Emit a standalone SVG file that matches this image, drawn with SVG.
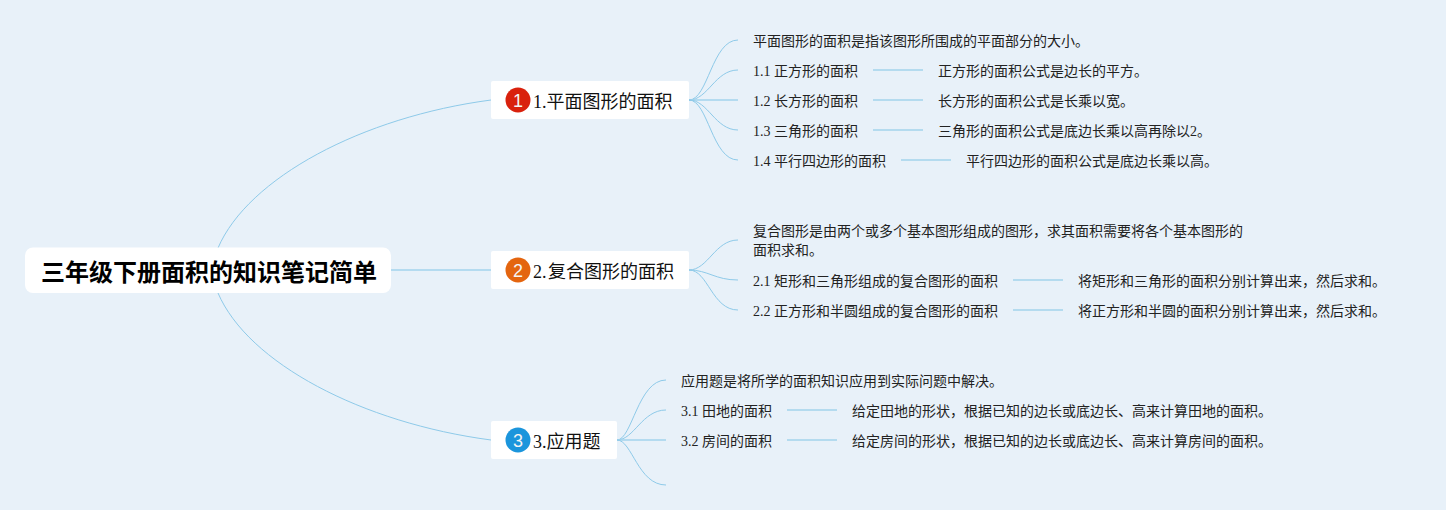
<svg xmlns="http://www.w3.org/2000/svg" width="1446" height="510" viewBox="0 0 1446 510">
<style>
text{font-family:"Liberation Serif","Noto Sans CJK SC",serif;fill:#222}
.s{font-size:14px}
.b{font-size:18px;fill:#111}
.r{font-size:24px;font-weight:700;font-family:"Liberation Sans","Noto Sans CJK SC",sans-serif;fill:#000}
.n{font-size:18px;fill:#f4f4f4;text-anchor:middle;font-family:"Liberation Sans",sans-serif}
.c{fill:none;stroke:#8ecae9;stroke-width:1}
.t{fill:none;stroke:#a3d3ec;stroke-width:1.4}
.w{fill:#fff}
</style>
<rect width="1446" height="510" fill="#e8f1f9"/>
<g id="connectors">
<path class="c" d="M218 248C248 178 362 117 491 100"/>
<path class="t" d="M391 270H491"/>
<path class="c" d="M218 293C248 363 362 423 491 440"/>
<path class="c" d="M689 100C708 100 712 40 738 40"/>
<path class="c" d="M689 100C708 100 715 70 738 70"/>
<path class="t" d="M689 100H738"/>
<path class="c" d="M689 100C708 100 715 130 738 130"/>
<path class="c" d="M689 100C708 100 712 160 738 160"/>
<path class="t" d="M873 70H923M873 100H923M873 130H923M901 160H951"/>
<path class="c" d="M689 270C708 270 715 240 738 240"/>
<path class="c" d="M689 270C708 270 715 280 738 280"/>
<path class="c" d="M689 270C708 270 712 310 738 310"/>
<path class="t" d="M1013 280H1063M1013 310H1063"/>
<path class="c" d="M617 440C632 440 638 380 666 380"/>
<path class="c" d="M617 440C634 440 642 410 666 410"/>
<path class="t" d="M617 440H666"/>
<path class="c" d="M617 440C632 440 638 485 666 485"/>
<path class="t" d="M787 410H837M787 440H837"/>
</g>
<g id="root"><rect class="w" x="25" y="247.500" width="366" height="45.500" rx="8"/><text class="r" x="41" y="281">三年级下册面积的知识笔记简单</text></g>
<g id="branch1"><rect class="w" x="491" y="81" width="198" height="38" rx="2"/><circle cx="518" cy="100" r="12.500" fill="#d9210d"/><text class="n" x="518" y="106.500">1</text><text class="b" x="533" y="108">1.平面图形的面积</text></g>
<g id="branch2"><rect class="w" x="491" y="251" width="198" height="38" rx="2"/><circle cx="518" cy="270" r="12.500" fill="#e4650f"/><text class="n" x="518" y="276.500">2</text><text class="b" x="533" y="278">2.<tspan dx="1.500">复合图形的面积</tspan></text></g>
<g id="branch3"><rect class="w" x="491" y="421" width="126" height="38" rx="2"/><circle cx="518" cy="440" r="12.500" fill="#1b95dc"/><text class="n" x="518" y="446.500">3</text><text class="b" x="533" y="448">3.应用题</text></g>
<g id="n1-0"><text class="s" x="753" y="46">平面图形的面积是指该图形所围成的平面部分的大小。</text></g>
<g id="n1-1"><text class="s" x="753" y="76">1.1 正方形的面积</text></g>
<g id="n1-1a"><text class="s" x="938" y="76">正方形的面积公式是边长的平方。</text></g>
<g id="n1-2"><text class="s" x="753" y="106">1.2 长方形的面积</text></g>
<g id="n1-2a"><text class="s" x="938" y="106">长方形的面积公式是长乘以宽。</text></g>
<g id="n1-3"><text class="s" x="753" y="136">1.3 三角形的面积</text></g>
<g id="n1-3a"><text class="s" x="938" y="136">三角形的面积公式是底边长乘以高再除以2。</text></g>
<g id="n1-4"><text class="s" x="753" y="166">1.4 平行四边形的面积</text></g>
<g id="n1-4a"><text class="s" x="966" y="166">平行四边形的面积公式是底边长乘以高。</text></g>
<g id="n2-0"><text class="s" x="753" y="236">复合图形是由两个或多个基本图形组成的图形，求其面积需要将各个基本图形的</text><text class="s" x="753" y="255">面积求和。</text></g>
<g id="n2-1"><text class="s" x="753" y="286">2.1 矩形和三角形组成的复合图形的面积</text></g>
<g id="n2-1a"><text class="s" x="1078" y="286">将矩形和三角形的面积分别计算出来，然后求和。</text></g>
<g id="n2-2"><text class="s" x="753" y="316">2.2 正方形和半圆组成的复合图形的面积</text></g>
<g id="n2-2a"><text class="s" x="1078" y="316">将正方形和半圆的面积分别计算出来，然后求和。</text></g>
<g id="n3-0"><text class="s" x="681" y="386">应用题是将所学的面积知识应用到实际问题中解决。</text></g>
<g id="n3-1"><text class="s" x="681" y="416">3.1 田地的面积</text></g>
<g id="n3-1a"><text class="s" x="852" y="416">给定田地的形状，根据已知的边长或底边长、高来计算田地的面积。</text></g>
<g id="n3-2"><text class="s" x="681" y="446">3.2 房间的面积</text></g>
<g id="n3-2a"><text class="s" x="852" y="446">给定房间的形状，根据已知的边长或底边长、高来计算房间的面积。</text></g>
</svg>
